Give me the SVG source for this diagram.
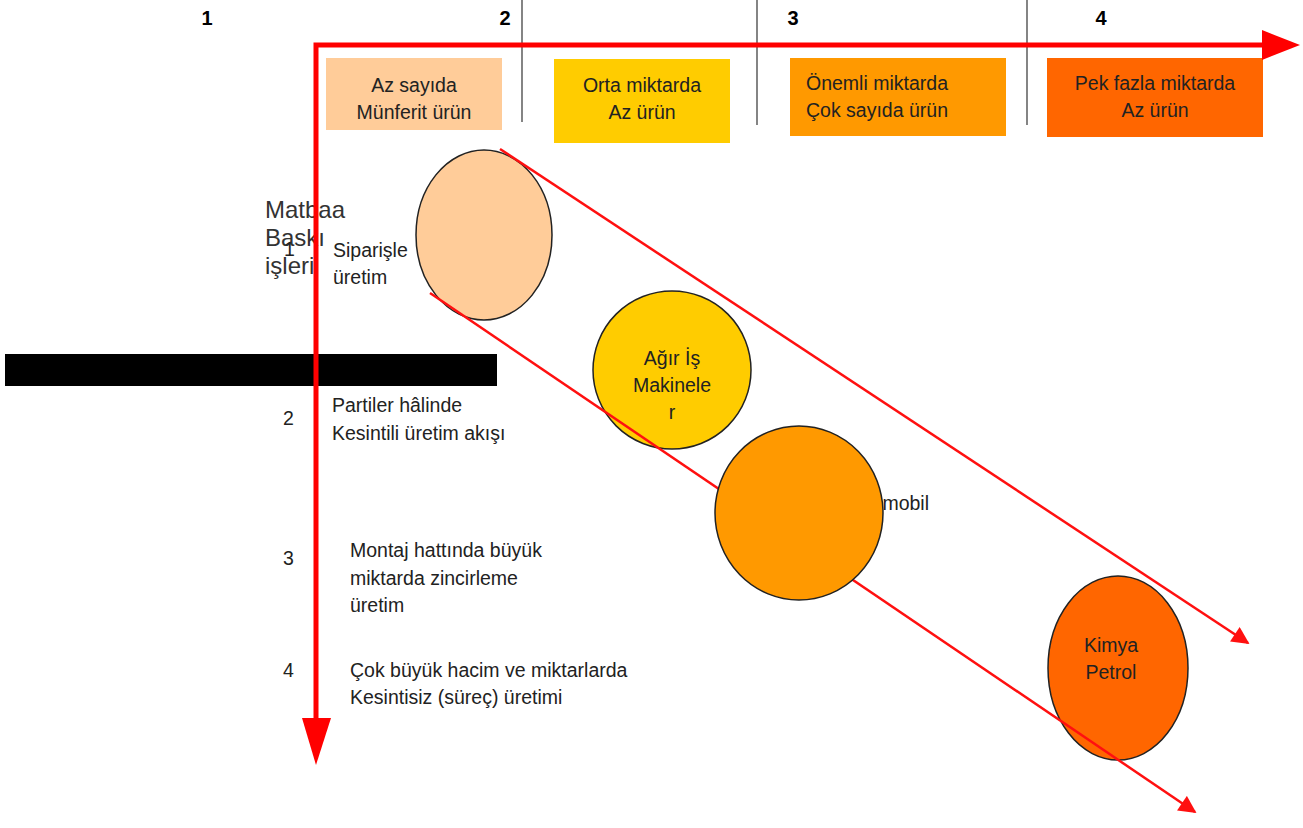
<svg xmlns="http://www.w3.org/2000/svg" width="1303" height="828" viewBox="0 0 1303 828">
  <style>
    text { font-family: "Liberation Sans", Arial, sans-serif; fill: #222; }
    .num { font-size: 20px; font-weight: bold; fill: #000; }
    .box { font-size: 19.5px; text-anchor: middle; }
    .lbl { font-size: 19.5px; }
    .big { font-size: 24px; fill: #333; }
    .circ { stroke: #222; stroke-width: 1.5; }
    .axis { stroke: #ff0000; stroke-width: 5; fill: none; }
    .flow { stroke: #ff1010; stroke-width: 2.5; fill: none; }
    .sep { stroke: #333; stroke-width: 1.2; }
  </style>
  <defs>
    <marker id="tip" viewBox="0 0 10 10" refX="9" refY="5" markerWidth="8" markerHeight="7" orient="auto">
      <path d="M0,0 L10,5 L0,10 Z" fill="#ff1010"/>
    </marker>
  </defs>

  <rect width="1303" height="828" fill="#fff"/>

  <!-- column numbers and separators -->
  <g id="columns">
    <text class="num" x="207" y="25" text-anchor="middle">1</text>
    <text class="num" x="505" y="25" text-anchor="middle">2</text>
    <text class="num" x="793" y="25" text-anchor="middle">3</text>
    <text class="num" x="1101" y="25" text-anchor="middle">4</text>
    <line class="sep" x1="522" y1="0" x2="522" y2="122"/>
    <line class="sep" x1="757" y1="0" x2="757" y2="125"/>
    <line class="sep" x1="1027" y1="0" x2="1027" y2="125"/>
  </g>

  <!-- quantity boxes -->
  <g id="box-az">
    <rect x="326" y="58" width="176" height="72" fill="#ffcc99"/>
    <text class="box" x="414" y="92">Az sayıda</text>
    <text class="box" x="414" y="119">Münferit ürün</text>
  </g>
  <g id="box-orta">
    <rect x="554" y="59" width="176" height="84" fill="#ffcc00"/>
    <text class="box" x="642" y="92">Orta miktarda</text>
    <text class="box" x="642" y="119">Az ürün</text>
  </g>
  <g id="box-onemli">
    <rect x="790" y="58" width="216" height="78" fill="#ff9900"/>
    <text class="box" x="877" y="90">Önemli miktarda</text>
    <text class="box" x="877" y="117">Çok sayıda ürün</text>
  </g>
  <g id="box-pek">
    <rect x="1047" y="58" width="216" height="79" fill="#ff6600"/>
    <text class="box" x="1155" y="90">Pek fazla miktarda</text>
    <text class="box" x="1155" y="117">Az ürün</text>
  </g>

  <!-- left-hand labels -->
  <g id="labels">
    <text class="big" x="265" y="218">Matbaa</text>
    <text class="big" x="265" y="246">Baskı</text>
    <text class="big" x="265" y="274">işleri</text>
    <text class="lbl" x="284" y="256" font-size="16">1</text>
    <text class="lbl" x="333" y="257">Siparişle</text>
    <text class="lbl" x="333" y="284">üretim</text>
    <text class="lbl" x="283" y="425">2</text>
    <text class="lbl" x="332" y="412">Partiler hâlinde</text>
    <text class="lbl" x="332" y="440">Kesintili üretim akışı</text>
    <text class="lbl" x="283" y="565">3</text>
    <text class="lbl" x="350" y="557">Montaj hattında büyük</text>
    <text class="lbl" x="350" y="585">miktarda zincirleme</text>
    <text class="lbl" x="350" y="612">üretim</text>
    <text class="lbl" x="283" y="677">4</text>
    <text class="lbl" x="350" y="677">Çok büyük hacim ve miktarlarda</text>
    <text class="lbl" x="350" y="704">Kesintisiz (süreç) üretimi</text>
  </g>

  <!-- black band -->
  <rect id="band" x="5" y="354" width="492" height="32" fill="#000"/>

  <!-- circles under the flow lines -->
  <g id="circle-siparis">
    <ellipse class="circ" cx="484" cy="235" rx="68" ry="85" fill="#ffcc99"/>
  </g>
  <g id="circle-makine">
    <circle class="circ" cx="672" cy="370" r="79" fill="#ffcc00"/>
    <text class="box" x="672" y="365">Ağır İş</text>
    <text class="box" x="672" y="392">Makinele</text>
    <text class="box" x="672" y="419">r</text>
  </g>
  <g id="circle-kimya">
    <ellipse class="circ" cx="1118" cy="668" rx="70" ry="92" fill="#ff6600"/>
    <text class="box" x="1111" y="652">Kimya</text>
    <text class="box" x="1111" y="679">Petrol</text>
  </g>

  <!-- axes and flow lines -->
  <g id="connectors">
    <polyline class="axis" points="316,720 316,45 1262,45"/>
    <polygon points="1262,30 1300,45 1262,60" fill="#ff0000"/>
    <polygon points="302,718 331,718 316,765" fill="#ff0000"/>
    <line class="flow" x1="500" y1="149" x2="1248" y2="643" marker-end="url(#tip)"/>
    <line class="flow" x1="430" y1="293" x2="1195" y2="812" marker-end="url(#tip)"/>
  </g>

  <!-- circle drawn over the flow line, hiding most of its label -->
  <g id="circle-otomobil">
    <text class="lbl" x="851" y="510">Otomobil</text>
    <ellipse class="circ" cx="799" cy="513" rx="84" ry="87" fill="#ff9900"/>
  </g>
</svg>
